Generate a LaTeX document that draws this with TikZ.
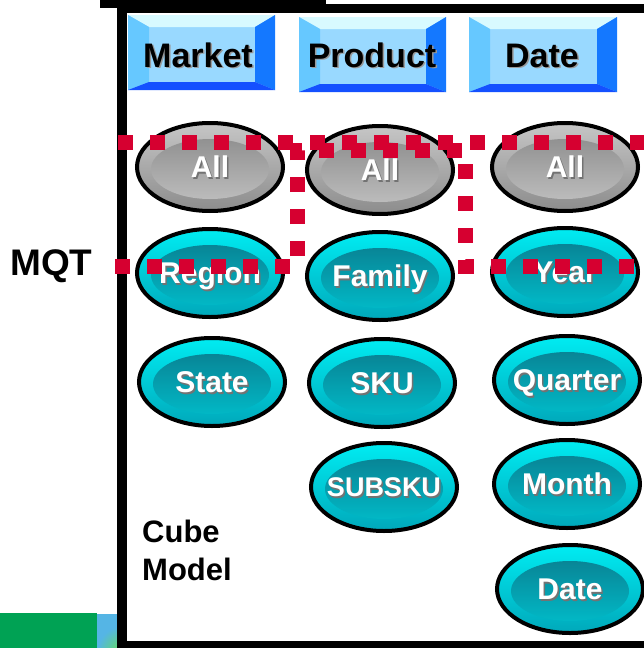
\documentclass[tikz,border=0pt]{standalone}
\usepackage{fontspec}
\setmainfont{Liberation Sans}
\usetikzlibrary{shapes.geometric}
\definecolor{cyTop}{HTML}{00ECF2}
\definecolor{cyBot}{HTML}{00A8BA}
\definecolor{cyInTop}{HTML}{0A788A}
\definecolor{cyInBot}{HTML}{00C2CF}
\definecolor{gyTop}{HTML}{C6C6C6}
\definecolor{gyBot}{HTML}{8C8C8C}
\definecolor{gyInTop}{HTML}{868686}
\definecolor{gyInBot}{HTML}{C4C4C4}
\definecolor{bvC}{HTML}{99D9FF}
\definecolor{bvT}{HTML}{D8FAFF}
\definecolor{bvL}{HTML}{66C8FF}
\definecolor{bvR}{HTML}{1478FF}
\definecolor{bvB}{HTML}{1450FF}
\definecolor{mqtred}{HTML}{D60030}
\definecolor{slgreen}{HTML}{00A254}
\definecolor{slblue}{HTML}{55B5E5}
\definecolor{slgreen2}{HTML}{66E050}
\newcommand{\shtxt}[2]{\makebox[0pt][l]{\hspace{1.5pt}\raisebox{-1.5pt}{\textcolor{#2}{#1}}}#1}
\newcommand{\bevelbox}[4]{%
  \fill[bvC] (#1,#2) rectangle (#3,#4);
  \fill[bvT] (#1,#2) -- (#3,#2) -- ({#3-20},{#2+12}) -- ({#1+21},{#2+12}) -- cycle;
  \fill[bvL] (#1,#2) -- ({#1+21},{#2+12}) -- ({#1+21},{#4-8}) -- (#1,#4) -- cycle;
  \fill[bvR] (#3,#2) -- (#3,#4) -- ({#3-20},{#4-8}) -- ({#3-20},{#2+12}) -- cycle;
  \fill[bvB] (#1,#4) -- (#3,#4) -- ({#3-20},{#4-8}) -- ({#1+21},{#4-8}) -- cycle;
}
\tikzset{
  ellbase/.style={ellipse, draw=black, line width=4pt, minimum width=146pt,
    minimum height=88pt, inner ysep=0pt, inner xsep=-25pt, text=white,
    font=\fontsize{30}{32}\selectfont\bfseries, text height=21.5pt, text depth=0pt},
  cyanell/.style={ellbase, top color=cyTop, bottom color=cyBot,
    path picture={\shade[top color=cyInTop, bottom color=cyInBot]
      ([yshift=-2pt]path picture bounding box.center) ellipse [x radius=59pt, y radius=30pt];}},
  grayell/.style={ellbase, top color=gyTop, bottom color=gyBot,
    path picture={\shade[top color=gyInTop, bottom color=gyInBot]
      ([yshift=-2pt]path picture bounding box.center) ellipse [x radius=59pt, y radius=30pt];}},
  headtxt/.style={anchor=base, inner sep=0pt, font=\fontsize{34}{36}\selectfont\bfseries, text=black},
  sidetxt/.style={anchor=base west, inner sep=0pt, font=\fontsize{31}{33}\selectfont\bfseries, text=black},
  redline/.style={draw=mqtred, line width=15pt, dash pattern=on 15pt off 17pt, line cap=butt, line join=miter},
}
\begin{document}
\begin{tikzpicture}[x=1pt,y=-1pt]
\useasboundingbox (0,0) rectangle (644,648);
\fill[white] (0,0) rectangle (644,648);
% slide remnants bottom-left
\fill[slgreen] (0,613) rectangle (97,648);
\begin{scope}
  \clip (97,614) rectangle (117,648);
  \fill[slblue] (97,614) rectangle (117,648);
  \shade[inner color=slgreen2, outer color=slblue] (123,652) circle (26);
\end{scope}
% frame
\fill[black] (100,0) rectangle (326,8);
\fill[black] (117,4) rectangle (644,13);
\fill[black] (117,4) rectangle (127,648);
\fill[black] (117,641) rectangle (644,648);
% headers
\bevelbox{128}{15}{275}{90}
\bevelbox{299}{17}{446}{92}
\bevelbox{469}{17}{617}{92}
\node[headtxt] (hmarket) at (198,67) {\shtxt{Market}{black!40}};
\node[headtxt] (hproduct) at (372,67) {\shtxt{Product}{black!40}};
\node[headtxt] (hdate) at (542,67) {\shtxt{Date}{black!40}};
% Market column
\node[grayell] (mall) at (210,167) {\shtxt{All}{black!55}};
\node[cyanell] (region) at (210,273) {\shtxt{Region}{black!55}};
\node[cyanell] (state) at (212,382) {\shtxt{State}{black!55}};
% Product column
\node[grayell] (pall) at (380,170) {\shtxt{All}{black!55}};
\node[cyanell] (family) at (380,276) {\shtxt{Family}{black!55}};
\node[cyanell] (sku) at (382,383) {\shtxt{SKU}{black!55}};
\node[cyanell, font=\fontsize{27}{29}\selectfont\bfseries, text height=19.5pt] (subsku) at (384,487) {\shtxt{SUBSKU}{black!55}};
% Date column
\node[grayell] (dall) at (565,167) {\shtxt{All}{black!55}};
\node[cyanell] (year) at (565,272) {\shtxt{Year}{black!55}};
\node[cyanell] (quarter) at (567,380) {\shtxt{Quarter}{black!55}};
\node[cyanell] (month) at (567,484) {\shtxt{Month}{black!55}};
\node[cyanell] (ddate) at (570,589) {\shtxt{Date}{black!55}};
% labels
\node[sidetxt, font=\fontsize{37}{39}\selectfont\bfseries] (mqt) at (10,275) {MQT};
\node[sidetxt] (cube) at (142,542) {Cube};
\node[sidetxt] (model) at (142,580) {Model};
% MQT boundary (dotted)
\path[redline] (118,142) -- (644,142);
\path[redline] (115,266) -- (297,266) -- (297,150) -- (465,150) -- (465,266) -- (644,266);
\end{tikzpicture}
\end{document}
